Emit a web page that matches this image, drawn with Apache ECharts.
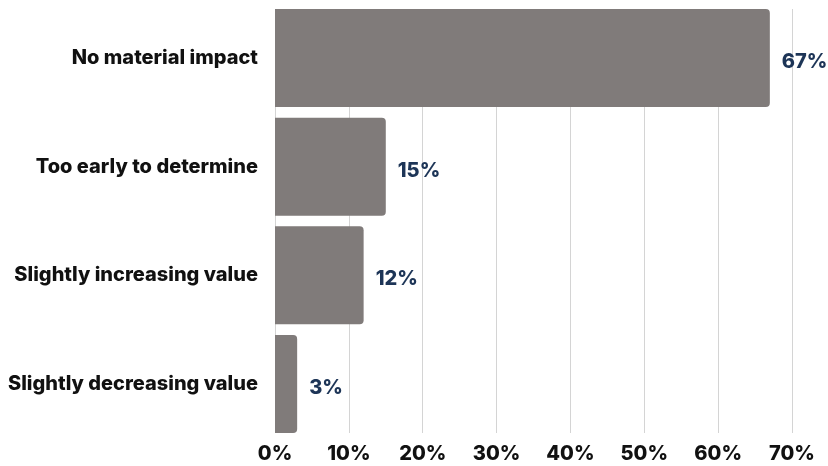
<!DOCTYPE html>
<html>
<head>
<meta charset="utf-8">
<script src="https://cdn.jsdelivr.net/npm/echarts@6/dist/echarts.min.js"></script>
<style>html,body{margin:0;padding:0;background:#fff;}#c{width:828px;height:466px;}</style>
</head>
<body>
<div id="c"></div>
<script>
const categories = ['No material impact', 'Too early to determine', 'Slightly increasing value', 'Slightly decreasing value'];
const values = [67, 15, 12, 3];
const xTicks = [0, 10, 20, 30, 40, 50, 60, 70];

const chart = echarts.init(document.getElementById('c'), null, {renderer: 'canvas'});
const font = 'Inter, "Noto Sans", sans-serif';
chart.setOption({
  animation: false,
  backgroundColor: '#ffffff',
  grid: [
    {left: 275, width: 517, top: 3.67, height: 434.67},
    {left: 275, width: 517, top: 9, height: 424}
  ],
  xAxis: [
    {gridIndex: 0, type: 'value', min: xTicks[0], max: xTicks[xTicks.length - 1], interval: 10, show: false},
    {gridIndex: 1, type: 'value', min: xTicks[0], max: xTicks[xTicks.length - 1], interval: 10,
      axisLine: {show: false}, axisTick: {show: false},
      splitLine: {show: true, lineStyle: {color: '#d4d4d4', width: 1}},
      axisLabel: {margin: 11, color: '#111', fontFamily: font, fontWeight: 800, fontSize: 20, formatter: v => v + '%'}}
  ],
  yAxis: [
    {gridIndex: 0, type: 'category', data: categories, inverse: true,
      axisLine: {show: false}, axisTick: {show: false}, splitLine: {show: false},
      axisLabel: {margin: 17, color: '#111', fontFamily: font, fontWeight: 800, fontSize: 20}},
    {gridIndex: 1, type: 'category', data: categories, inverse: true, show: false}
  ],
  series: [{
    type: 'bar',
    xAxisIndex: 0, yAxisIndex: 0,
    data: values,
    barCategoryGap: '9.8%',
    itemStyle: {color: '#807b7a', borderRadius: [0, 4, 4, 0]},
    label: {show: true, position: 'right', distance: 12, offset: [0, 4], formatter: p => p.value + '%',
      color: '#1d3557', fontFamily: font, fontWeight: 800, fontSize: 20}
  }]
});
</script>
</body>
</html>
